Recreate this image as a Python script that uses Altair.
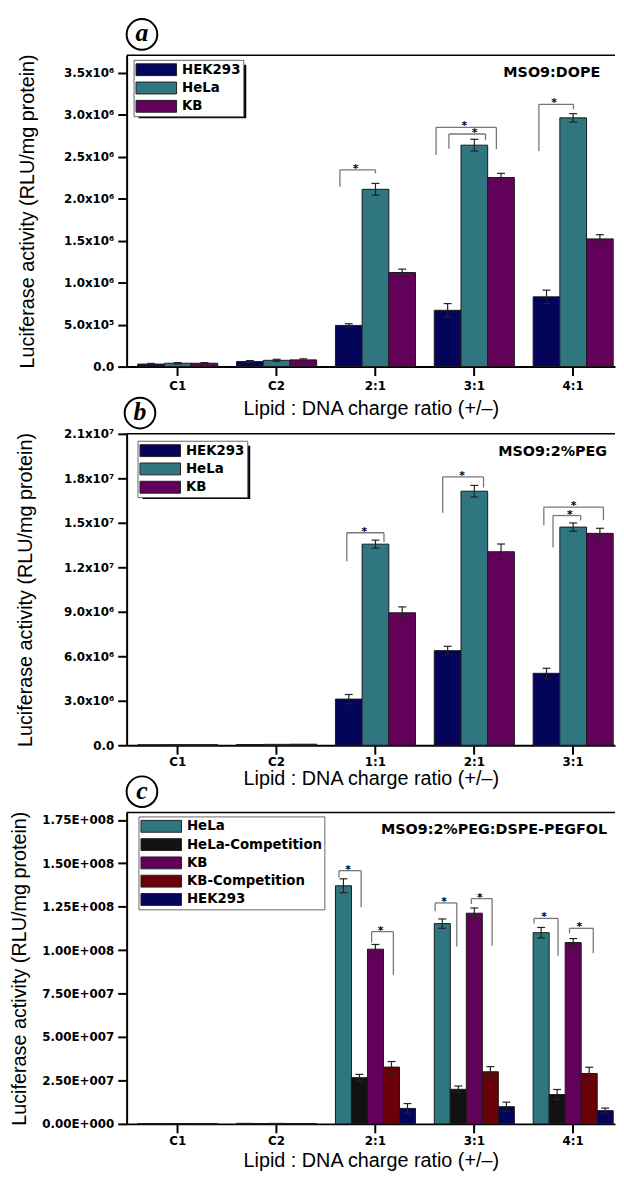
import altair as alt
import pandas as pd

# ---------------- data ----------------
YT = "Luciferase activity (RLU/mg protein)"
XT = "Lipid : DNA charge ratio (+/–)"

# Panel a : MSO9:DOPE
a_cats = ["C1", "C2", "2:1", "3:1", "4:1"]
a_series = ["HEK293", "HeLa", "KB"]
a_colors = ["#04045a", "#2f7680", "#62005a"]
a_hek = [0.03e6, 0.06e6, 0.49e6, 0.67e6, 0.83e6]
a_hela = [0.04e6, 0.075e6, 2.11e6, 2.635e6, 2.96e6]
a_kb = [0.04e6, 0.08e6, 1.12e6, 2.25e6, 1.52e6]
a_hek_err = [0.008e6, 0.012e6, 0.02e6, 0.08e6, 0.08e6]
a_hela_err = [0.008e6, 0.012e6, 0.07e6, 0.07e6, 0.05e6]
a_kb_err = [0.008e6, 0.012e6, 0.04e6, 0.05e6, 0.05e6]
a_ticks = [0, 0.5e6, 1.0e6, 1.5e6, 2.0e6, 2.5e6, 3.0e6, 3.5e6]
a_tick_labels = ["0.0", "5.0x10⁵", "1.0x10⁶", "1.5x10⁶", "2.0x10⁶", "2.5x10⁶", "3.0x10⁶", "3.5x10⁶"]
a_ymax = 3.706e6
a_br_cat = ["2:1", "3:1", "3:1", "4:1"]
a_br_left = [-0.36, -0.387, -0.257, -0.347]
a_br_right = [0.0, 0.223, 0.113, 0.003]
a_br_top = [2.34e6, 2.847e6, 2.768e6, 3.121e6]
a_br_lbot = [2.14e6, 2.518e6, 2.592e6, 2.565e6]
a_br_rbot = [2.30e6, 2.588e6, 2.694e6, 3.062e6]
a_br_star_dx = [-0.02, -0.02, 0.075, -0.02]

# Panel b : MSO9:2%PEG
b_cats = ["C1", "C2", "1:1", "2:1", "3:1"]
b_series = ["HEK293", "HeLa", "KB"]
b_colors = ["#04045a", "#2f7680", "#62005a"]
b_hek = [0.03e6, 0.05e6, 3.11e6, 6.38e6, 4.85e6]
b_hela = [0.04e6, 0.06e6, 13.56e6, 17.13e6, 14.71e6]
b_kb = [0.04e6, 0.07e6, 8.93e6, 13.05e6, 14.29e6]
b_hek_err = [0, 0, 0.31e6, 0.29e6, 0.34e6]
b_hela_err = [0, 0, 0.27e6, 0.39e6, 0.28e6]
b_kb_err = [0, 0, 0.40e6, 0.52e6, 0.34e6]
b_ticks = [0, 3e6, 6e6, 9e6, 12e6, 15e6, 18e6, 21e6]
b_tick_labels = ["0.0", "3.0x10⁶", "6.0x10⁶", "9.0x10⁶", "1.2x10⁷", "1.5x10⁷", "1.8x10⁷", "2.1x10⁷"]
b_ymax = 2.1e7
b_br_cat = ["1:1", "2:1", "3:1", "3:1"]
b_br_left = [-0.29, -0.32, -0.297, -0.204]
b_br_right = [0.086, 0.093, 0.306, 0.076]
b_br_top = [14.33e6, 18.09e6, 16.05e6, 15.49e6]
b_br_lbot = [12.4e6, 15.67e6, 14.83e6, 13.33e6]
b_br_rbot = [13.71e6, 17.38e6, 15.18e6, 15.16e6]
b_br_star_dx = [-0.01, -0.01, 0.0, 0.03]

# Panel c : MSO9:2%PEG:DSPE-PEGFOL
c_cats = ["C1", "C2", "2:1", "3:1", "4:1"]
c_series = ["HeLa", "HeLa-Competition", "KB", "KB-Competition", "HEK293"]
c_colors = ["#2f7680", "#121212", "#62005a", "#6a0008", "#04045a"]
c_hela = [0.2e6, 0.3e6, 137.1e6, 115.3e6, 110.1e6]
c_hela_comp = [0.1e6, 0.2e6, 26.6e6, 19.9e6, 16.9e6]
c_kb = [0.2e6, 0.3e6, 100.6e6, 121.3e6, 104.4e6]
c_kb_comp = [0.1e6, 0.2e6, 32.7e6, 30.0e6, 29.0e6]
c_hek = [0.1e6, 0.2e6, 8.9e6, 9.9e6, 7.6e6]
c_hela_err = [0, 0, 4.0e6, 2.7e6, 3.0e6]
c_hela_comp_err = [0, 0, 1.9e6, 1.9e6, 2.9e6]
c_kb_err = [0, 0, 2.7e6, 3.0e6, 2.3e6]
c_kb_comp_err = [0, 0, 3.2e6, 3.0e6, 3.6e6]
c_hek_err = [0, 0, 2.8e6, 2.6e6, 1.5e6]
c_ticks = [0, 2.5e7, 5e7, 7.5e7, 1e8, 1.25e8, 1.5e8, 1.75e8]
c_tick_labels = ["0.00E+000", "2.50E+007", "5.00E+007", "7.50E+007",
                 "1.00E+008", "1.25E+008", "1.50E+008", "1.75E+008"]
c_ymax = 1.793e8
c_br_cat = ["2:1", "2:1", "3:1", "3:1", "4:1", "4:1"]
c_br_left = [-0.369, -0.039, -0.397, -0.03, -0.397, -0.037]
c_br_right = [-0.145, 0.181, -0.177, 0.18, -0.153, 0.203]
c_br_top = [145.8e6, 110.7e6, 127.2e6, 129.7e6, 118.3e6, 112.6e6]
c_br_lbot = [141.8e6, 104.4e6, 122.4e6, 126.6e6, 115.3e6, 109.7e6]
c_br_rbot = [124.7e6, 85.8e6, 102.2e6, 102.5e6, 96.8e6, 98.3e6]
c_br_star_dx = [-0.02, -0.02, -0.02, -0.02, -0.02, -0.02]

# ---------------- layout constants ----------------
W = 494
H = 315
STEP = 100.0
BW = 81.0
NC = 5
PI = 1 - BW / STEP
OUTER = W - STEP * (NC - PI)
PO = OUTER / (2 * STEP)
C0 = 51.7
AL = (C0 - BW / 2) / OUTER
XDOM = [-C0 / STEP, (W - C0) / STEP]

LEG_SIZE = 225
LEG_PATH = "M-2.733,-0.8H2.733V0.8H-2.733Z"


def label_expr(vals, labels):
    tol = max(vals) * 1e-6
    expr = ""
    for v, l in zip(vals, labels):
        expr += f"abs(datum.value - {float(v)}) < {tol} ? '{l}' : "
    return expr + "''"


def make_df(cats, series, values, errs):
    rows = []
    for s, vals, es in zip(series, values, errs):
        for c, v, e in zip(cats, vals, es):
            rows.append({"cat": c, "series": s, "val": v, "lo": v - e, "hi": v + e, "err": e})
    return pd.DataFrame(rows)


def bracket_dfs(cats, br_cat, left, right, top, lbot, rbot, star_dx):
    segs, stars = [], []
    for c, l, r, t, lb, rb, sd in zip(br_cat, left, right, top, lbot, rbot, star_dx):
        i = cats.index(c)
        segs.append({"bx": i + l, "bx2": i + r, "by": t, "by2": t})
        segs.append({"bx": i + l, "bx2": i + l, "by": lb, "by2": t})
        segs.append({"bx": i + r, "bx2": i + r, "by": rb, "by2": t})
        stars.append({"bx": i + (l + r) / 2 + sd, "by": t, "s": "*"})
    return pd.DataFrame(segs), pd.DataFrame(stars)


def panel(df, cats, series, colors, ymax, ticks, tlabels, segs, stars,
          note, note_x, letter, letter_x, leg_x, leg_y, shadow, shadow_w, shadow_h,
          title_x, xtitle_y, label_pad):
    one = pd.DataFrame({"k": [0]})
    yscale = alt.Scale(domain=[0, ymax], nice=False, zero=True)
    yaxis = alt.Axis(values=ticks, labelExpr=label_expr(ticks, tlabels), title=YT,
                     titleX=title_x, titleY=H / 2, titleBaseline="middle", labelPadding=4)
    xscale = alt.Scale(domain=cats, paddingInner=PI, paddingOuter=PO, align=AL)
    xenc = alt.X("cat:N", sort=cats, scale=xscale,
                 axis=alt.Axis(title=XT, labelAngle=0, titleY=xtitle_y, titleBaseline="middle",
                               labelPadding=label_pad))
    xenc_noaxis = alt.X("cat:N", sort=cats, scale=xscale, axis=None)
    xoff = alt.XOffset("series:N", sort=series,
                       scale=alt.Scale(domain=series, paddingInner=0, paddingOuter=0))
    xq = alt.Scale(domain=XDOM, nice=False, zero=False)

    legend = alt.Legend(orient="none", legendX=leg_x, legendY=leg_y, title=None,
                        fillColor="white", strokeColor="#666", padding=2,
                        symbolType=LEG_PATH, symbolSize=LEG_SIZE, symbolStrokeColor="#222",
                        symbolStrokeWidth=1, symbolOpacity=1, symbolOffset=13,
                        labelFont="DejaVu Sans", labelFontWeight="bold", labelFontSize=13.5,
                        labelColor="black", labelOffset=18, rowPadding=2.5)

    base = alt.Chart(df)
    bars = base.mark_bar(stroke="#1a1a1a", strokeWidth=1, opacity=1).encode(
        x=xenc, xOffset=xoff,
        y=alt.Y("val:Q", scale=yscale, axis=yaxis),
        color=alt.Color("series:N", sort=series,
                        scale=alt.Scale(domain=series, range=colors), legend=legend),
    )
    errs = base.transform_filter("datum.err > 0").mark_rule(color="#222", strokeWidth=1.2).encode(
        x=xenc_noaxis, xOffset=xoff,
        y=alt.Y("lo:Q", scale=yscale, axis=yaxis), y2="hi:Q",
    )
    caps = base.transform_filter("datum.err > 0").transform_fold(
        ["lo", "hi"], as_=["end", "yv"]
    ).mark_tick(size=8, thickness=1.2, color="#222", opacity=1).encode(
        x=xenc_noaxis, xOffset=xoff,
        y=alt.Y("yv:Q", scale=yscale, axis=yaxis),
    )
    brk = alt.Chart(segs).mark_rule(color="#777", strokeWidth=1.3).encode(
        x=alt.X("bx:Q", scale=xq, axis=None), x2="bx2:Q",
        y=alt.Y("by:Q", scale=yscale, axis=yaxis), y2="by2:Q",
    )
    star = alt.Chart(stars).mark_text(font="DejaVu Sans", fontWeight="bold", fontSize=11,
                                      baseline="alphabetic", dy=2, color="black").encode(
        x=alt.X("bx:Q", scale=xq, axis=None),
        y=alt.Y("by:Q", scale=yscale, axis=yaxis),
        text="s:N",
    )
    topline = alt.Chart(one).mark_rule(color="black", strokeWidth=1.5).encode(
        x=alt.value(0), x2=alt.value(W), y=alt.value(0))
    note_t = alt.Chart(one).mark_text(text=note, align="right", baseline="middle",
                                      font="DejaVu Sans", fontWeight="bold", fontSize=14.5,
                                      color="black").encode(
        x=alt.value(note_x), y=alt.value(18))
    circ = alt.Chart(one).mark_point(shape="circle", size=961, filled=False, stroke="black",
                                     strokeWidth=2, opacity=1).encode(
        x=alt.value(letter_x), y=alt.value(-21))
    letter_t = alt.Chart(one).mark_text(text=letter, font="Liberation Serif", fontStyle="italic",
                                        fontWeight="bold", fontSize=26, baseline="alphabetic",
                                        dy=7, color="black").encode(
        x=alt.value(letter_x), y=alt.value(-21))
    layers = []
    if shadow:
        layers.append(alt.Chart(one).mark_rect(color="black").encode(
            x=alt.value(leg_x + 5), x2=alt.value(leg_x + 5 + shadow_w),
            y=alt.value(leg_y + 5), y2=alt.value(leg_y + 5 + shadow_h)))
    layers += [bars, errs, caps, brk, star, topline, note_t, circ, letter_t]
    return alt.layer(*layers).resolve_scale(x="independent").properties(width=W, height=H)


dfa = make_df(a_cats, a_series, [a_hek, a_hela, a_kb], [a_hek_err, a_hela_err, a_kb_err])
dfb = make_df(b_cats, b_series, [b_hek, b_hela, b_kb], [b_hek_err, b_hela_err, b_kb_err])
dfc = make_df(c_cats, c_series, [c_hela, c_hela_comp, c_kb, c_kb_comp, c_hek],
              [c_hela_err, c_hela_comp_err, c_kb_err, c_kb_comp_err, c_hek_err])

sa, ta = bracket_dfs(a_cats, a_br_cat, a_br_left, a_br_right, a_br_top, a_br_lbot, a_br_rbot, a_br_star_dx)
sb, tb = bracket_dfs(b_cats, b_br_cat, b_br_left, b_br_right, b_br_top, b_br_lbot, b_br_rbot, b_br_star_dx)
sc, tc = bracket_dfs(c_cats, c_br_cat, c_br_left, c_br_right, c_br_top, c_br_lbot, c_br_rbot, c_br_star_dx)

pa = panel(dfa, a_cats, a_series, a_colors, a_ymax, a_ticks, a_tick_labels, sa, ta,
           "MSO9:DOPE", 479, "a", 15.5, 7, 4.7, True, 109, 54, -100, 42, 5)
pb = panel(dfb, b_cats, b_series, b_colors, b_ymax, b_ticks, b_tick_labels, sb, tb,
           "MSO9:2%PEG", 486, "b", 13.5, 11, 7, True, 109, 54, -102, 34, 2)
pc = panel(dfc, c_cats, c_series, c_colors, c_ymax, c_ticks, c_tick_labels, sc, tc,
           "MSO9:2%PEG:DSPE-PEGFOL", 486, "c", 15.5, 12, 4, False, 0, 0, -108, 37, 3)

chart = alt.vconcat(pa, pb, pc, spacing=68, bounds="flush").resolve_scale(
    color="independent", xOffset="independent"
).properties(
    padding={"left": 1, "top": 0, "right": 0, "bottom": 0}
).configure_view(stroke=None).configure_axis(
    labelFont="DejaVu Sans", labelFontWeight="bold", labelFontSize=12, labelColor="black",
    titleFont="Liberation Sans", titleFontSize=20, titleFontWeight="normal", titleColor="black",
    domainColor="black", domainWidth=2, tickColor="black", tickWidth=2, tickSize=9, grid=False,
)

chart.save("out.html", embed_options={"renderer": "svg", "actions": False})
